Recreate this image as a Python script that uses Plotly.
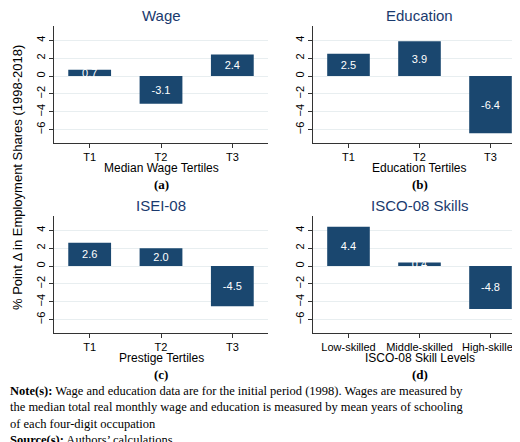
import plotly.graph_objects as go

tertiles = ['T1', 'T2', 'T3']
skill_levels = ['Low-skilled', 'Middle-skilled', 'High-skilled']
wage_vals = [0.7, -3.1, 2.4]
edu_vals = [2.5, 3.9, -6.4]
isei_vals = [2.6, 2.0, -4.5]
isco_vals = [4.4, 0.4, -4.8]

titles = ['Wage', 'Education', 'ISEI-08', 'ISCO-08 Skills']
xtitles = ['Median Wage Tertiles', 'Education Tertiles', 'Prestige Tertiles', 'ISCO-08 Skill Levels']
letters = ['(a)', '(b)', '(c)', '(d)']

W, H = 520, 442
navy = '#1a476f'
panels = [
    (tertiles, wage_vals, [46, 260], [18, 135]),
    (tertiles, edu_vals, [305, 518], [18, 135]),
    (tertiles, isei_vals, [46, 260], [208, 325]),
    (skill_levels, isco_vals, [305, 518], [208, 325]),
]

fig = go.Figure()
ann = []
for i, (cats, vals, xp, yp) in enumerate(panels):
    n = '' if i == 0 else str(i + 1)
    fig.add_trace(go.Bar(
        x=cats, y=vals, xaxis='x' + n, yaxis='y' + n,
        marker=dict(color=navy, line=dict(color=navy, width=0)),
        width=0.6, text=[f'{v:.1f}' for v in vals], textposition='inside',
        insidetextanchor='middle', constraintext='none',
        textfont=dict(color='white', size=11, family='Liberation Sans'),
        showlegend=False))
    xd = [xp[0] / W, xp[1] / W]
    yd = [1 - yp[1] / H, 1 - yp[0] / H]
    fig.layout['xaxis' + n] = dict(domain=xd, anchor='y' + n, showline=True, linecolor='#333',
                                   ticks='outside', ticklen=4, tickcolor='#333',
                                   tickfont=dict(size=11, color='black'))
    fig.layout['yaxis' + n] = dict(domain=yd, anchor='x' + n, range=[-7.5, 5.6],
                                   tickvals=[-6, -4, -2, 0, 2, 4], tickangle=-90,
                                   showline=True, linecolor='#333', ticks='outside', ticklen=4,
                                   tickcolor='#333', gridcolor='#e8eef0', zeroline=False,
                                   tickfont=dict(size=11, color='black'))
    xc = (xd[0] + xd[1]) / 2
    ann.append(dict(text=titles[i], x=xc, y=yd[1], yshift=0, yanchor='bottom',
                    font=dict(size=15, color='#1a3a6e')))
    ann.append(dict(text=xtitles[i], x=xc, y=yd[0], yshift=-16, yanchor='top',
                    font=dict(size=12, color='black')))
    ann.append(dict(text='<b>' + letters[i] + '</b>', x=xc, y=yd[0], yshift=-32, yanchor='top',
                    font=dict(size=13, color='black', family='Liberation Serif')))

ann.append(dict(text='% Point \u0394 in Employment Shares (1998-2018)', x=10 / W, y=1 - 170 / H,
                textangle=-90, font=dict(size=13, color='black')))
notes = ('<b>Note(s):</b> Wage and education data are for the initial period (1998). Wages are measured by<br>'
         'the median total real monthly wage and education is measured by mean years of schooling<br>'
         'of each four-digit occupation<br>'
         '<b>Source(s):</b> Authors\u2019 calculations')
ann.append(dict(text=notes, x=0, y=1 - 374 / H, xanchor='left', yanchor='top', align='left',
                font=dict(size=12.5, color='black', family='Liberation Serif')))
for a in ann:
    a.setdefault('xref', 'paper')
    a.setdefault('yref', 'paper')
    a.setdefault('xanchor', 'center')
    a.setdefault('showarrow', False)

fig.update_layout(width=W, height=H, margin=dict(l=0, r=0, t=0, b=0),
                  paper_bgcolor='white', plot_bgcolor='white', annotations=ann,
                  font=dict(family='Liberation Sans'))
fig.write_html('out.html')
